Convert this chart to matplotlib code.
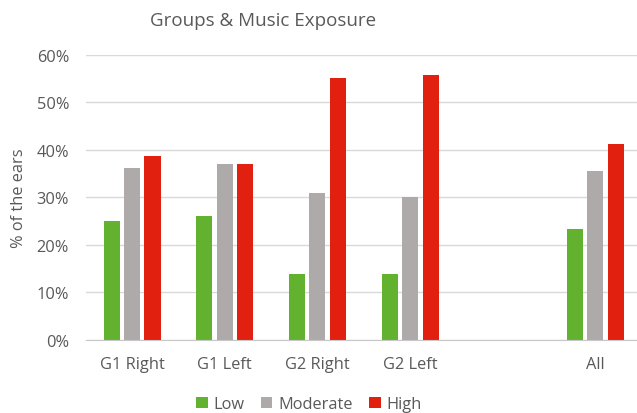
import matplotlib
matplotlib.use("Agg")
from matplotlib import pyplot as plt
from matplotlib.ticker import PercentFormatter
import numpy as np

plt.rcParams['font.family'] = ['Open Sans', 'DejaVu Sans']

gruppen = ['G1 Right', 'G1 Left', 'G2 Right', 'G2 Left', '', 'All']
low = [0.25, 0.26, 0.137, 0.138, np.nan, 0.233]
moderate = [0.362, 0.369, 0.309, 0.301, np.nan, 0.354]
high = [0.387, 0.369, 0.551, 0.557, np.nan, 0.411]

farben = {'Low': '#62B22F', 'Moderate': '#AEAAAA', 'High': '#E2200F'}
textfarbe = '#595959'
schrift = 11.8

fig = plt.figure(figsize=(6.37, 4.14), dpi=100)
ax = fig.add_axes([0.1345, 0.1775, 0.873, 0.688])

x = np.arange(len(gruppen))
breite = 0.173
abstand = 0.221
for i, (name, werte) in enumerate([('Low', low), ('Moderate', moderate), ('High', high)]):
    ax.bar(x + (i - 1) * abstand, werte, breite, color=farben[name], label=name, zorder=3)

ax.set_xlim(-0.5, len(gruppen) - 0.5)
ax.set_ylim(0, 0.6)
ax.set_yticks(np.arange(0, 0.61, 0.1))
ax.yaxis.set_major_formatter(PercentFormatter(1.0, decimals=0))
ax.set_xticks(x)
ax.set_xticklabels(gruppen)

ax.grid(axis='y', color='#D9D9D9', linewidth=1.0, zorder=0)
for s in ['top', 'right', 'left']:
    ax.spines[s].set_visible(False)
ax.spines['bottom'].set_color('#C8C8C8')
ax.spines['bottom'].set_zorder(4)
ax.tick_params(axis='both', length=0, labelsize=schrift, colors=textfarbe)
ax.tick_params(axis='y', pad=12)
ax.tick_params(axis='x', pad=12)

ax.set_ylabel('% of the ears', fontsize=schrift, color=textfarbe)
ax.yaxis.set_label_coords(-0.106, 0.5)

fig.text(263 / 637, 1 - 21 / 414, 'Groups & Music Exposure', ha='center', va='center',
         fontsize=13.5, color=textfarbe)

leg = fig.legend(loc='center', bbox_to_anchor=(309 / 637, 1 - 405 / 414), ncol=3, frameon=False,
                 fontsize=schrift, handlelength=0.7, handleheight=0.7, handletextpad=0.35,
                 columnspacing=1.0)
for t in leg.get_texts():
    t.set_color(textfarbe)

fig.savefig('out.png', dpi=100)
